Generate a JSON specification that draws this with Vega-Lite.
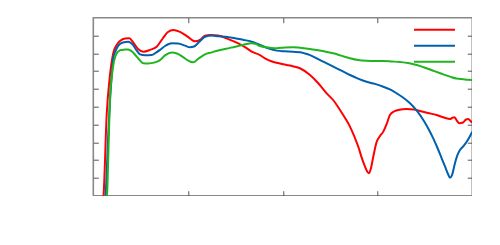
{
  "$schema": "https://vega.github.io/schema/vega-lite/v6.json",
  "autosize": {"type": "none"},
  "width": 379,
  "height": 178,
  "padding": {"left": 93.3, "top": 17.7, "right": 0, "bottom": 0},
  "background": "white",
  "config": {
    "view": {"stroke": "#888888", "strokeWidth": 1.6},
    "axis": {"labels": false, "domain": false, "grid": false, "title": null, "tickSize": -5, "tickColor": "#555555", "tickWidth": 1}
  },
  "data": {
    "values": [
      {"s": "A", "x": 0.097, "y": -5.2}, {"s": "A", "x": 0.108, "y": 0}, {"s": "A", "x": 0.141, "y": 45.3}, {"s": "A", "x": 0.176, "y": 67.8}, {"s": "A", "x": 0.211, "y": 80.2}, {"s": "A", "x": 0.247, "y": 84.7}, {"s": "A", "x": 0.282, "y": 86.9}, {"s": "A", "x": 0.335, "y": 88.3}, {"s": "A", "x": 0.38, "y": 88.4}, {"s": "A", "x": 0.419, "y": 86.3}, {"s": "A", "x": 0.472, "y": 82.4}, {"s": "A", "x": 0.528, "y": 80.9}, {"s": "A", "x": 0.598, "y": 81.9}, {"s": "A", "x": 0.669, "y": 83.7}, {"s": "A", "x": 0.736, "y": 88.6}, {"s": "A", "x": 0.788, "y": 92.0}, {"s": "A", "x": 0.844, "y": 93.1}, {"s": "A", "x": 0.915, "y": 92.0}, {"s": "A", "x": 0.999, "y": 89.2}, {"s": "A", "x": 1.073, "y": 86.7}, {"s": "A", "x": 1.126, "y": 87.5}, {"s": "A", "x": 1.179, "y": 89.9}, {"s": "A", "x": 1.232, "y": 90.3}, {"s": "A", "x": 1.316, "y": 90.0}, {"s": "A", "x": 1.425, "y": 88.0}, {"s": "A", "x": 1.53, "y": 85.6}, {"s": "A", "x": 1.601, "y": 83.5}, {"s": "A", "x": 1.672, "y": 80.9}, {"s": "A", "x": 1.759, "y": 79.0}, {"s": "A", "x": 1.812, "y": 77.2}, {"s": "A", "x": 1.886, "y": 75.4}, {"s": "A", "x": 1.97, "y": 74.3}, {"s": "A", "x": 2.076, "y": 73.1}, {"s": "A", "x": 2.181, "y": 71.6}, {"s": "A", "x": 2.287, "y": 67.8}, {"s": "A", "x": 2.372, "y": 63.3}, {"s": "A", "x": 2.463, "y": 57.5}, {"s": "A", "x": 2.54, "y": 53.2}, {"s": "A", "x": 2.604, "y": 48.1}, {"s": "A", "x": 2.657, "y": 43.7}, {"s": "A", "x": 2.709, "y": 38.8}, {"s": "A", "x": 2.757, "y": 33.0}, {"s": "A", "x": 2.797, "y": 27.5}, {"s": "A", "x": 2.831, "y": 21.7}, {"s": "A", "x": 2.868, "y": 16.3}, {"s": "A", "x": 2.894, "y": 13.3}, {"s": "A", "x": 2.91, "y": 12.6}, {"s": "A", "x": 2.931, "y": 15.6}, {"s": "A", "x": 2.955, "y": 21.9}, {"s": "A", "x": 2.991, "y": 30.3}, {"s": "A", "x": 3.026, "y": 33.5}, {"s": "A", "x": 3.061, "y": 36.0}, {"s": "A", "x": 3.1, "y": 40.8}, {"s": "A", "x": 3.131, "y": 45.3}, {"s": "A", "x": 3.174, "y": 47.3}, {"s": "A", "x": 3.219, "y": 48.1}, {"s": "A", "x": 3.308, "y": 48.7}, {"s": "A", "x": 3.385, "y": 48.4}, {"s": "A", "x": 3.448, "y": 47.6}, {"s": "A", "x": 3.532, "y": 46.5}, {"s": "A", "x": 3.624, "y": 45.3}, {"s": "A", "x": 3.701, "y": 43.9}, {"s": "A", "x": 3.765, "y": 43.1}, {"s": "A", "x": 3.791, "y": 43.8}, {"s": "A", "x": 3.812, "y": 44.1}, {"s": "A", "x": 3.833, "y": 42.5}, {"s": "A", "x": 3.863, "y": 40.7}, {"s": "A", "x": 3.902, "y": 41.1}, {"s": "A", "x": 3.934, "y": 42.8}, {"s": "A", "x": 3.958, "y": 43.1}, {"s": "A", "x": 3.981, "y": 42.0}, {"s": "A", "x": 4.0, "y": 41.0},
      {"s": "B", "x": 0.118, "y": -5.2}, {"s": "B", "x": 0.129, "y": 0}, {"s": "B", "x": 0.16, "y": 36.9}, {"s": "B", "x": 0.187, "y": 62.2}, {"s": "B", "x": 0.211, "y": 77.4}, {"s": "B", "x": 0.24, "y": 81.9}, {"s": "B", "x": 0.264, "y": 84.3}, {"s": "B", "x": 0.313, "y": 86.1}, {"s": "B", "x": 0.369, "y": 86.5}, {"s": "B", "x": 0.419, "y": 84.7}, {"s": "B", "x": 0.461, "y": 81.3}, {"s": "B", "x": 0.493, "y": 79.4}, {"s": "B", "x": 0.546, "y": 78.9}, {"s": "B", "x": 0.616, "y": 79.0}, {"s": "B", "x": 0.662, "y": 80.4}, {"s": "B", "x": 0.704, "y": 81.9}, {"s": "B", "x": 0.757, "y": 84.1}, {"s": "B", "x": 0.827, "y": 85.6}, {"s": "B", "x": 0.894, "y": 85.5}, {"s": "B", "x": 0.968, "y": 84.3}, {"s": "B", "x": 1.021, "y": 83.4}, {"s": "B", "x": 1.063, "y": 83.8}, {"s": "B", "x": 1.116, "y": 86.3}, {"s": "B", "x": 1.179, "y": 89.3}, {"s": "B", "x": 1.253, "y": 90.0}, {"s": "B", "x": 1.319, "y": 89.6}, {"s": "B", "x": 1.401, "y": 89.3}, {"s": "B", "x": 1.496, "y": 88.4}, {"s": "B", "x": 1.58, "y": 87.6}, {"s": "B", "x": 1.672, "y": 86.5}, {"s": "B", "x": 1.759, "y": 84.7}, {"s": "B", "x": 1.847, "y": 82.8}, {"s": "B", "x": 1.936, "y": 81.5}, {"s": "B", "x": 2.023, "y": 81.1}, {"s": "B", "x": 2.108, "y": 80.8}, {"s": "B", "x": 2.181, "y": 80.6}, {"s": "B", "x": 2.234, "y": 79.9}, {"s": "B", "x": 2.287, "y": 79.0}, {"s": "B", "x": 2.393, "y": 76.2}, {"s": "B", "x": 2.533, "y": 72.5}, {"s": "B", "x": 2.625, "y": 70.1}, {"s": "B", "x": 2.709, "y": 67.8}, {"s": "B", "x": 2.794, "y": 65.8}, {"s": "B", "x": 2.885, "y": 64.0}, {"s": "B", "x": 2.973, "y": 62.8}, {"s": "B", "x": 3.061, "y": 61.2}, {"s": "B", "x": 3.131, "y": 59.7}, {"s": "B", "x": 3.202, "y": 57.5}, {"s": "B", "x": 3.269, "y": 55.2}, {"s": "B", "x": 3.343, "y": 51.9}, {"s": "B", "x": 3.416, "y": 47.6}, {"s": "B", "x": 3.483, "y": 42.5}, {"s": "B", "x": 3.538, "y": 37.5}, {"s": "B", "x": 3.588, "y": 32.2}, {"s": "B", "x": 3.633, "y": 26.8}, {"s": "B", "x": 3.677, "y": 21.0}, {"s": "B", "x": 3.712, "y": 16.4}, {"s": "B", "x": 3.744, "y": 12.2}, {"s": "B", "x": 3.765, "y": 10.1}, {"s": "B", "x": 3.786, "y": 11.6}, {"s": "B", "x": 3.817, "y": 18.2}, {"s": "B", "x": 3.844, "y": 22.9}, {"s": "B", "x": 3.87, "y": 25.7}, {"s": "B", "x": 3.907, "y": 27.9}, {"s": "B", "x": 3.941, "y": 30.3}, {"s": "B", "x": 3.971, "y": 33.0}, {"s": "B", "x": 4.0, "y": 36.0},
      {"s": "C", "x": 0.134, "y": -5.2}, {"s": "C", "x": 0.145, "y": 0}, {"s": "C", "x": 0.16, "y": 25.7}, {"s": "C", "x": 0.176, "y": 54.9}, {"s": "C", "x": 0.194, "y": 66.1}, {"s": "C", "x": 0.211, "y": 73.4}, {"s": "C", "x": 0.229, "y": 77.6}, {"s": "C", "x": 0.247, "y": 80.0}, {"s": "C", "x": 0.271, "y": 81.3}, {"s": "C", "x": 0.3, "y": 81.9}, {"s": "C", "x": 0.335, "y": 82.2}, {"s": "C", "x": 0.369, "y": 82.2}, {"s": "C", "x": 0.408, "y": 81.0}, {"s": "C", "x": 0.458, "y": 78.1}, {"s": "C", "x": 0.493, "y": 76.0}, {"s": "C", "x": 0.528, "y": 74.4}, {"s": "C", "x": 0.577, "y": 74.3}, {"s": "C", "x": 0.651, "y": 74.9}, {"s": "C", "x": 0.704, "y": 76.2}, {"s": "C", "x": 0.757, "y": 78.8}, {"s": "C", "x": 0.827, "y": 80.4}, {"s": "C", "x": 0.883, "y": 79.9}, {"s": "C", "x": 0.947, "y": 77.9}, {"s": "C", "x": 0.999, "y": 76.0}, {"s": "C", "x": 1.055, "y": 74.9}, {"s": "C", "x": 1.105, "y": 76.8}, {"s": "C", "x": 1.179, "y": 79.4}, {"s": "C", "x": 1.242, "y": 80.4}, {"s": "C", "x": 1.319, "y": 81.6}, {"s": "C", "x": 1.401, "y": 82.5}, {"s": "C", "x": 1.496, "y": 83.7}, {"s": "C", "x": 1.58, "y": 84.7}, {"s": "C", "x": 1.672, "y": 85.6}, {"s": "C", "x": 1.717, "y": 85.2}, {"s": "C", "x": 1.759, "y": 84.1}, {"s": "C", "x": 1.847, "y": 83.3}, {"s": "C", "x": 1.936, "y": 82.8}, {"s": "C", "x": 2.023, "y": 83.3}, {"s": "C", "x": 2.108, "y": 83.4}, {"s": "C", "x": 2.181, "y": 83.1}, {"s": "C", "x": 2.266, "y": 82.6}, {"s": "C", "x": 2.358, "y": 81.9}, {"s": "C", "x": 2.445, "y": 81.0}, {"s": "C", "x": 2.533, "y": 80.0}, {"s": "C", "x": 2.614, "y": 78.7}, {"s": "C", "x": 2.709, "y": 77.2}, {"s": "C", "x": 2.794, "y": 76.2}, {"s": "C", "x": 2.885, "y": 75.8}, {"s": "C", "x": 2.973, "y": 75.7}, {"s": "C", "x": 3.061, "y": 75.7}, {"s": "C", "x": 3.153, "y": 75.4}, {"s": "C", "x": 3.237, "y": 75.1}, {"s": "C", "x": 3.321, "y": 74.6}, {"s": "C", "x": 3.413, "y": 73.4}, {"s": "C", "x": 3.501, "y": 71.9}, {"s": "C", "x": 3.588, "y": 70.2}, {"s": "C", "x": 3.677, "y": 68.5}, {"s": "C", "x": 3.765, "y": 66.9}, {"s": "C", "x": 3.833, "y": 65.8}, {"s": "C", "x": 3.905, "y": 65.4}, {"s": "C", "x": 3.955, "y": 65.1}, {"s": "C", "x": 4.0, "y": 65.0}
    ]
  },
  "layer": [
    {
      "mark": {"type": "line", "clip": true, "strokeWidth": 2, "interpolate": "monotone"},
      "encoding": {
        "x": {"field": "x", "type": "quantitative", "scale": {"domain": [0, 4], "nice": false, "zero": false}, "axis": {"orient": "bottom", "values": [1, 2, 3]}},
        "y": {"field": "y", "type": "quantitative", "scale": {"domain": [0, 100], "nice": false}, "axis": {"orient": "left", "values": [10, 20, 30, 40, 50, 60, 70, 80, 90]}},
        "color": {
          "field": "s", "type": "nominal",
          "scale": {"domain": ["A", "B", "C"], "range": ["#ff0000", "#0060ad", "#20b41e"]},
          "legend": {
            "orient": "none", "legendX": 319.7, "legendY": 4.25, "padding": 0, "title": null,
            "symbolType": "stroke", "symbolSize": 1681, "symbolStrokeWidth": 2, "clipHeight": 15.5, "rowPadding": 0,
            "labelExpr": "''", "labelOffset": 0
          }
        }
      }
    },
    {
      "mark": {"type": "point", "opacity": 0},
      "encoding": {
        "x": {"field": "x", "type": "quantitative", "scale": {"domain": [0, 4], "nice": false, "zero": false}, "axis": {"orient": "top", "values": [1, 2, 3]}},
        "y": {"field": "y", "type": "quantitative", "scale": {"domain": [0, 100], "nice": false}, "axis": {"orient": "right", "values": [10, 20, 30, 40, 50, 60, 70, 80, 90]}}
      }
    }
  ],
  "resolve": {"axis": {"x": "independent", "y": "independent"}}
}
